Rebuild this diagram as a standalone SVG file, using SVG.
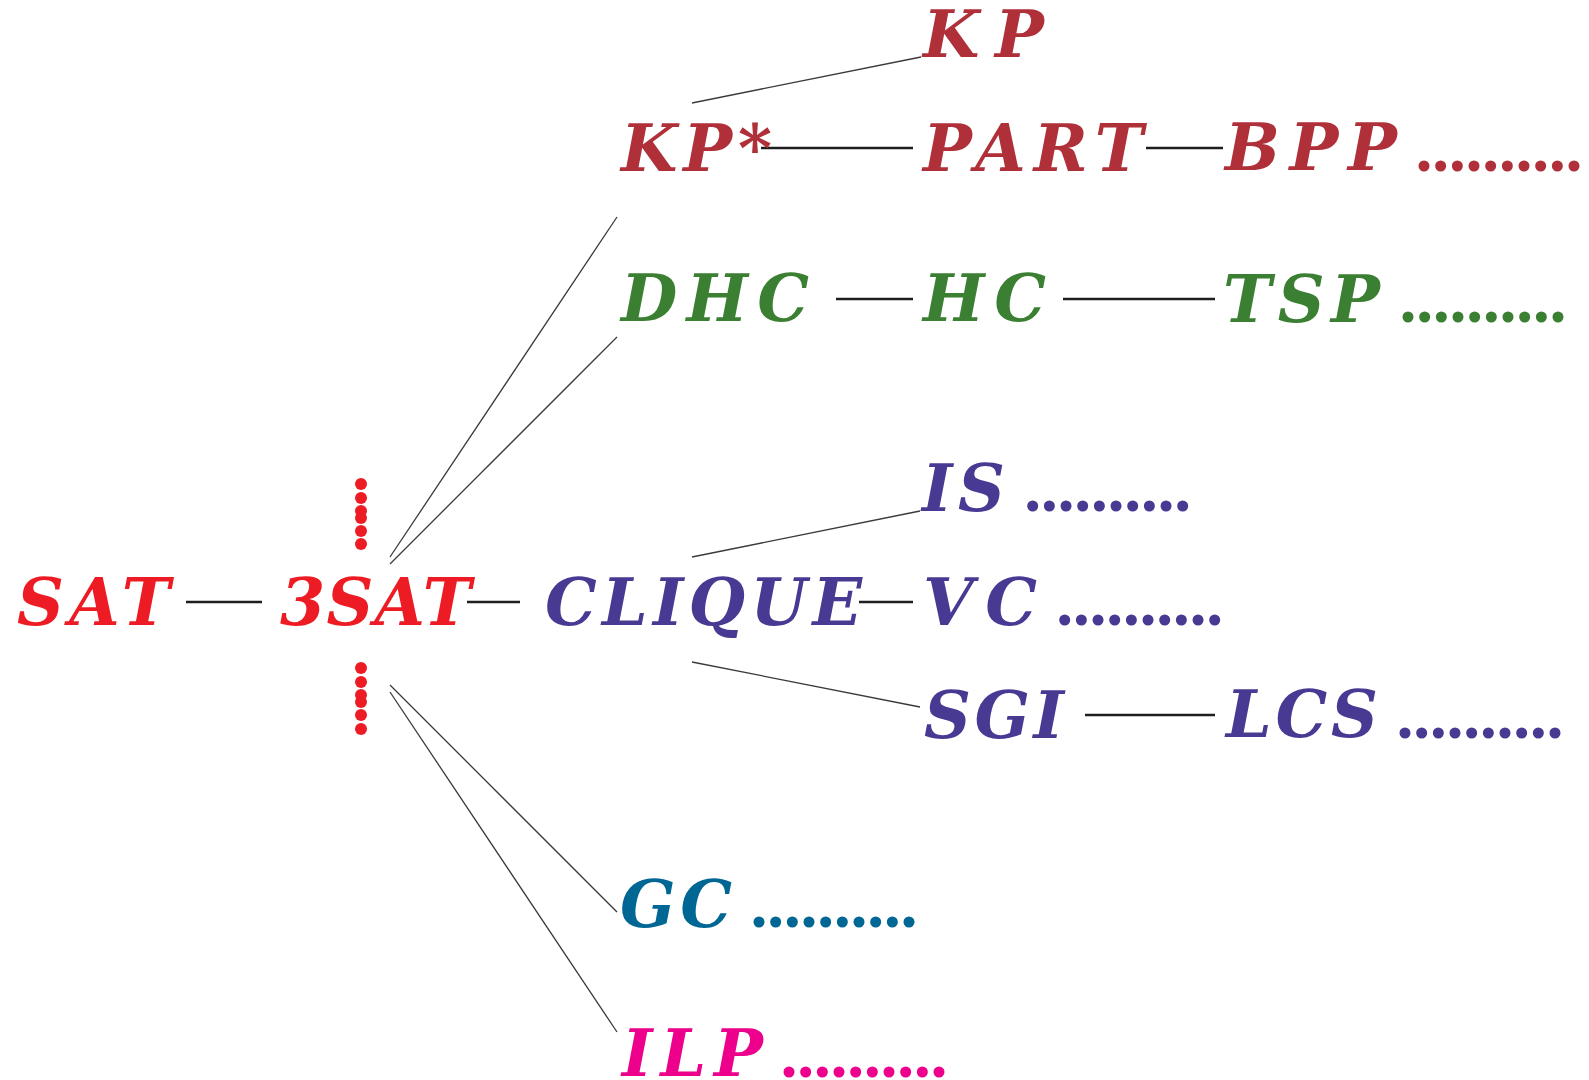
<svg xmlns="http://www.w3.org/2000/svg" width="1589" height="1080" viewBox="0 0 1589 1080">
<style>
text{font-family:"DejaVu Serif","Liberation Serif",serif;font-style:italic;font-weight:bold;font-size:65px}
.red{fill:#ed1c24}.mar{fill:#b0303a}.grn{fill:#3b7f33}.pur{fill:#483a93}.teal{fill:#006694}.mag{fill:#ec008c}
.thin{stroke:#3a3a3a;stroke-width:1.3;fill:none}
.thick{stroke:#1e1e1e;stroke-width:2.4;fill:none}
.dots{stroke-width:11;stroke-linecap:round;stroke-dasharray:0 16.667;fill:none}
</style>
<rect width="1589" height="1080" fill="#fff"/>
<g id="connectors">
<line class="thin" x1="390" y1="557" x2="617" y2="217"/>
<line class="thin" x1="390" y1="564" x2="617" y2="337"/>
<line class="thin" x1="390" y1="685" x2="617" y2="912"/>
<line class="thin" x1="390" y1="692" x2="617" y2="1032"/>
<line class="thin" x1="692" y1="103" x2="921" y2="57"/>
<line class="thin" x1="692" y1="557" x2="920" y2="511"/>
<line class="thin" x1="692" y1="662" x2="920" y2="707"/>
<line class="thick" x1="186" y1="602" x2="262" y2="602"/>
<line class="thick" x1="467" y1="602" x2="520" y2="602"/>
<line class="thick" x1="859" y1="602" x2="913" y2="602"/>
<line class="thick" x1="761" y1="148" x2="913" y2="148"/>
<line class="thick" x1="1146" y1="148" x2="1223" y2="148"/>
<line class="thick" x1="836" y1="299" x2="913" y2="299"/>
<line class="thick" x1="1063" y1="299" x2="1215" y2="299"/>
<line class="thick" x1="1085" y1="715" x2="1215" y2="715"/>
</g>
<g id="n-SAT"><text class="red" x="17" y="625" textLength="153" lengthAdjust="spacing">SAT</text></g>
<g id="n-3SAT"><text class="red" x="280" y="625" textLength="191" lengthAdjust="spacing">3SAT</text>
<g fill="#ed1c24">
<circle cx="361" cy="484" r="6"/><circle cx="361" cy="498" r="6"/><circle cx="361" cy="511" r="6"/>
<circle cx="361" cy="518" r="6"/><circle cx="361" cy="531" r="6"/><circle cx="361" cy="544" r="6"/>
<circle cx="361" cy="668" r="6"/><circle cx="361" cy="682" r="6"/><circle cx="361" cy="695" r="6"/>
<circle cx="361" cy="702" r="6"/><circle cx="361" cy="715" r="6"/><circle cx="361" cy="729" r="6"/>
</g></g>
<g id="n-CLIQUE"><text class="pur" x="545" y="625" textLength="317" lengthAdjust="spacing">CLIQUE</text></g>
<g id="n-KP"><text class="mar" x="923" y="57" textLength="121" lengthAdjust="spacing">KP</text></g>
<g id="n-KPstar"><text class="mar" x="621" y="171" textLength="151" lengthAdjust="spacing">KP*</text></g>
<g id="n-PART"><text class="mar" x="923" y="171" textLength="220" lengthAdjust="spacing">PART</text></g>
<g id="n-BPP"><text class="mar" x="1225" y="170" textLength="172" lengthAdjust="spacing">BPP</text>
<line class="dots" stroke="#b0303a" x1="1424" y1="166" x2="1574.5" y2="166"/></g>
<g id="n-DHC"><text class="grn" x="621" y="321" textLength="188" lengthAdjust="spacing">DHC</text></g>
<g id="n-HC"><text class="grn" x="923" y="321" textLength="123" lengthAdjust="spacing">HC</text></g>
<g id="n-TSP"><text class="grn" x="1223" y="322" textLength="157" lengthAdjust="spacing">TSP</text>
<line class="dots" stroke="#3b7f33" x1="1408" y1="317" x2="1558.5" y2="317"/></g>
<g id="n-IS"><text class="pur" x="922" y="511" textLength="83" lengthAdjust="spacing">IS</text>
<line class="dots" stroke="#483a93" x1="1032.7" y1="506" x2="1183.2" y2="506"/></g>
<g id="n-VC"><text class="pur" x="923" y="625" textLength="114" lengthAdjust="spacing">VC</text>
<line class="dots" stroke="#483a93" x1="1064.7" y1="620" x2="1215.2" y2="620"/></g>
<g id="n-SGI"><text class="pur" x="924" y="738" textLength="140" lengthAdjust="spacing">SGI</text></g>
<g id="n-LCS"><text class="pur" x="1226" y="737" textLength="152" lengthAdjust="spacing">LCS</text>
<line class="dots" stroke="#483a93" x1="1405" y1="733" x2="1555.5" y2="733"/></g>
<g id="n-GC"><text class="teal" x="620" y="927" textLength="112" lengthAdjust="spacing">GC</text>
<line class="dots" stroke="#006694" x1="759" y1="922" x2="909.5" y2="922"/></g>
<g id="n-ILP"><text class="mag" x="622" y="1076" textLength="141" lengthAdjust="spacing">ILP</text>
<line class="dots" stroke="#ec008c" x1="789" y1="1072" x2="939.5" y2="1072"/></g>
</svg>
